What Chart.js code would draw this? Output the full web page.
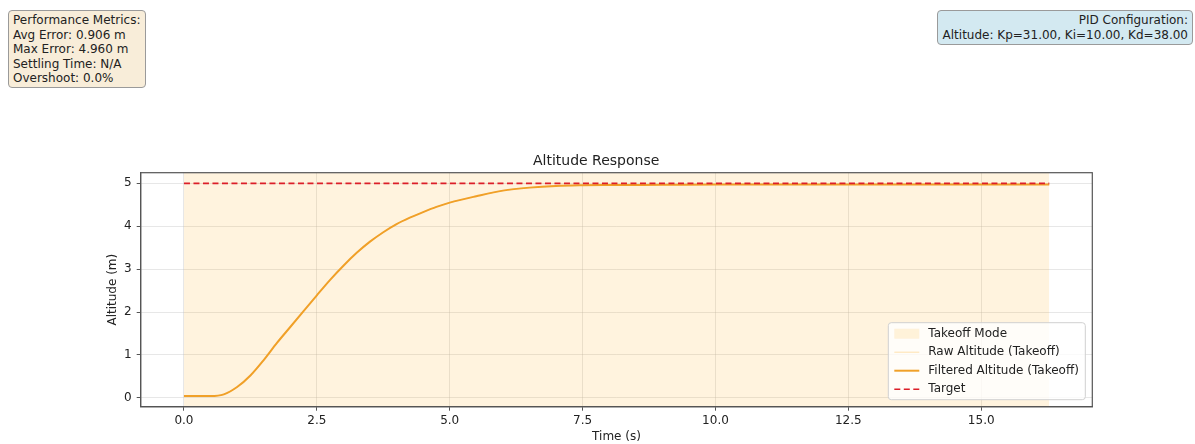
<!DOCTYPE html>
<html>
<head>
<meta charset="utf-8">
<script src="https://cdn.jsdelivr.net/npm/chart.js@4"></script>
<style>
  html, body { margin: 0; padding: 0; background: #fff; }
  #wrap { position: relative; width: 1195px; height: 444px; overflow: hidden; }
  #chart { position: absolute; left: 0; top: 0; }
  .box {
    position: absolute;
    font-family: 'DejaVu Sans', sans-serif;
    font-size: 12px;
    line-height: 14.5px;
    color: #222;
    border: 1px solid #9a9a9a;
    border-radius: 4px;
    padding: 2px 4px;
    box-sizing: border-box;
    white-space: pre;
  }
  #perfBox { left: 8px; top: 10px; width: 138px; height: 78px; background: #f8edd9; }
  #pidBox { left: 937px; top: 10px; width: 256px; height: 35px; background: #d3e9f1; text-align: right; }
</style>
</head>
<body>
<div id="wrap">
  <canvas id="chart" width="1195" height="444"></canvas>
  <div class="box" id="perfBox"></div>
  <div class="box" id="pidBox"></div>
</div>
<script>
// time (s) and altitude (m)
const timeS = [0, 0.25, 0.5, 0.75, 1.0, 1.25, 1.5, 1.75, 2.0, 2.25, 2.5, 2.75, 3.0, 3.25, 3.5, 3.75, 4.0, 4.25, 4.5, 4.75, 5.0, 5.5, 6.0, 6.5, 7.0, 7.5, 8.0, 9.0, 10.0, 12.0, 14.0, 16.28];
const filteredAlt = [0.04, 0.04, 0.04, 0.08, 0.25, 0.52, 0.88, 1.28, 1.65, 2.02, 2.39, 2.75, 3.08, 3.38, 3.64, 3.86, 4.05, 4.20, 4.33, 4.45, 4.55, 4.70, 4.83, 4.90, 4.94, 4.955, 4.96, 4.965, 4.97, 4.97, 4.97, 4.97];
const rawAlt = [0.04, 0.04, 0.04, 0.08, 0.25, 0.52, 0.88, 1.28, 1.65, 2.02, 2.39, 2.75, 3.08, 3.38, 3.64, 3.86, 4.05, 4.20, 4.33, 4.45, 4.55, 4.70, 4.83, 4.90, 4.94, 4.955, 4.96, 4.965, 4.97, 4.97, 4.97, 4.97];
const targetAlt = 5;
const takeoffSpan = [0, 16.28];
const xTicks = [0, 2.5, 5, 7.5, 10, 12.5, 15];
const yTicks = [0, 1, 2, 3, 4, 5];

const perfLines = ['Performance Metrics:', 'Avg Error: 0.906 m', 'Max Error: 4.960 m', 'Settling Time: N/A', 'Overshoot: 0.0%'];
const pidLines = ['PID Configuration:', 'Altitude: Kp=31.00, Ki=10.00, Kd=38.00'];

document.getElementById('perfBox').textContent = perfLines.join('\n');
document.getElementById('pidBox').textContent = pidLines.join('\n');

Chart.defaults.font.family = "'DejaVu Sans', sans-serif";
Chart.defaults.font.size = 12;
Chart.defaults.color = '#222';

const toPoints = (xs, ys) => xs.map((x, i) => ({ x: x, y: ys[i] }));

// frame round the plot + legend inside the axes (bottom right)
const framePlugin = {
    id: 'frameAndLegend',
    afterDraw(chart) {
        const { ctx, chartArea: a } = chart;
        ctx.save();
        ctx.strokeStyle = '#555';
        ctx.lineWidth = 1.2;
        ctx.strokeRect(a.left, a.top, a.right - a.left, a.bottom - a.top);

        // legend box
        const bx = a.right - 204, by = a.bottom - 84, bw = 197, bh = 77;
        ctx.fillStyle = 'rgba(255,255,255,0.8)';
        ctx.strokeStyle = '#d0d0d0';
        ctx.lineWidth = 1;
        ctx.beginPath();
        ctx.roundRect(bx, by, bw, bh, 3);
        ctx.fill();
        ctx.stroke();

        ctx.font = "12px 'DejaVu Sans', sans-serif";
        ctx.textBaseline = 'middle';
        chart.data.datasets.forEach((ds, i) => {
            const y = by + 11 + i * 18.5;
            const hx = bx + 6;
            if (ds.fill) {
                ctx.fillStyle = ds.backgroundColor;
                ctx.fillRect(hx, y - 5, 25, 10);
            } else {
                ctx.strokeStyle = ds.borderColor;
                ctx.lineWidth = ds.borderWidth;
                ctx.setLineDash(ds.borderDash || []);
                ctx.beginPath();
                ctx.moveTo(hx, y);
                ctx.lineTo(hx + 25, y);
                ctx.stroke();
                ctx.setLineDash([]);
            }
            ctx.fillStyle = '#222';
            ctx.fillText(ds.label, bx + 40, y);
        });
        ctx.restore();
    }
};

new Chart(document.getElementById('chart').getContext('2d'), {
    type: 'line',
    data: {
        datasets: [
            {
                label: 'Takeoff Mode',
                data: toPoints(takeoffSpan, [5.248, 5.248]),
                backgroundColor: 'rgba(255,165,0,0.13)',
                borderWidth: 0,
                pointRadius: 0,
                fill: 'start',
                order: 4
            },
            {
                label: 'Raw Altitude (Takeoff)',
                data: toPoints(timeS, rawAlt),
                borderColor: 'rgba(255,165,0,0.3)',
                borderWidth: 1,
                pointRadius: 0,
                cubicInterpolationMode: 'monotone',
                fill: false,
                order: 3
            },
            {
                label: 'Filtered Altitude (Takeoff)',
                data: toPoints(timeS, filteredAlt),
                borderColor: 'rgb(240,160,40)',
                borderWidth: 2,
                pointRadius: 0,
                cubicInterpolationMode: 'monotone',
                fill: false,
                order: 2
            },
            {
                label: 'Target',
                data: toPoints(takeoffSpan, [targetAlt, targetAlt]),
                borderColor: 'rgb(220,30,40)',
                borderWidth: 1.6,
                borderDash: [6, 3.5],
                pointRadius: 0,
                fill: false,
                order: 1
            }
        ]
    },
    options: {
        responsive: false,
        animation: false,
        events: [],
        layout: { padding: { left: 100, right: 102.7, top: 0, bottom: 0 } },
        plugins: {
            legend: { display: false },
            tooltip: { enabled: false },
            title: {
                display: true,
                text: 'Altitude Response',
                font: { size: 14, weight: 'normal' },
                color: '#222',
                padding: { top: 152.6, bottom: 3.3 }
            }
        },
        scales: {
            x: {
                type: 'linear',
                min: -0.814,
                max: 17.09,
                afterBuildTicks: s => { s.ticks = xTicks.map(v => ({ value: v })); },
                afterFit: s => { s.height = 37.3; },
                ticks: { callback: v => v.toFixed(1), padding: 3, maxRotation: 0, color: '#222' },
                grid: { color: 'rgba(176,176,176,0.3)', tickColor: '#555', tickLength: 4 },
                border: { color: '#555', width: 1.2 },
                title: { display: true, text: 'Time (s)', font: { size: 12 }, color: '#222', padding: { top: 0, bottom: 0 } }
            },
            y: {
                type: 'linear',
                min: -0.208,
                max: 5.248,
                afterBuildTicks: s => { s.ticks = yTicks.map(v => ({ value: v })); },
                afterFit: s => { s.width = 40.7; },
                ticks: { callback: v => String(v), padding: 5, color: '#222' },
                grid: { color: 'rgba(176,176,176,0.3)', tickColor: '#555', tickLength: 4 },
                border: { color: '#555', width: 1.2 },
                title: { display: true, text: 'Altitude (m)', font: { size: 12 }, color: '#222', padding: { top: 6, bottom: 0 } }
            }
        }
    },
    plugins: [framePlugin]
});
</script>
</body>
</html>
